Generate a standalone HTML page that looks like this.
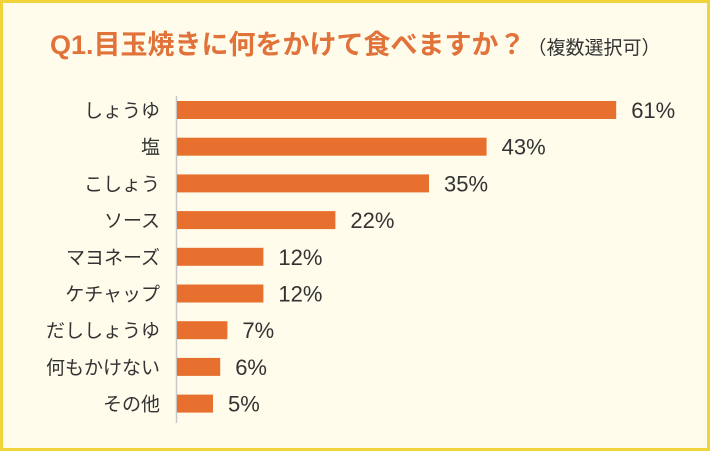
<!DOCTYPE html>
<html><head><meta charset="utf-8"><style>
body{margin:0;width:710px;height:451px;overflow:hidden;background:#fff}
#frame{position:absolute;left:0;top:0;width:704px;height:445px;border:3px solid #f0d43a;background:#fffcec}
text{font-family:"Liberation Sans","Noto Sans CJK JP",sans-serif}
</style></head><body>
<div id="frame"></div>
<svg id="chart" width="710" height="451" style="position:absolute;left:0;top:0">
<text x="50" y="54" font-size="27" font-weight="bold" fill="#e0723a">Q1.目玉焼きに何をかけて食べますか？<tspan font-size="19" font-weight="normal" fill="#333" dx="2">（複数選択可）</tspan></text>
<line x1="176.5" y1="96" x2="176.5" y2="423" stroke="#c8c8c8" stroke-width="1.5"/>
</svg>
<script>
const categories=["しょうゆ","塩","こしょう","ソース","マヨネーズ","ケチャップ","だししょうゆ","何もかけない","その他"];
const values=[61,43,35,22,12,12,7,6,5];
const valueLabels=["61%","43%","35%","22%","12%","12%","7%","6%","5%"];
const svg=document.getElementById('chart');
const NS='http://www.w3.org/2000/svg';
const x0=177, pxPer=7.2;
function xScale(v){return x0+v*pxPer;}
function yScale(i){return 110+i*36.7;}
categories.forEach((c,i)=>{
  const cy=yScale(i);
  const r=document.createElementNS(NS,'rect');
  r.setAttribute('x',x0);r.setAttribute('y',cy-9);
  r.setAttribute('width',xScale(values[i])-x0);r.setAttribute('height',18);
  r.setAttribute('fill','#e8702f');
  
  
  svg.appendChild(r);
  const t=document.createElementNS(NS,'text');
  t.setAttribute('x',160);t.setAttribute('y',cy+7);
  t.setAttribute('text-anchor','end');t.setAttribute('font-size','19');t.setAttribute('fill','#333');
  t.textContent=c;
  
  
  svg.appendChild(t);
  const v=document.createElementNS(NS,'text');
  v.setAttribute('x',xScale(values[i])+15);v.setAttribute('y',cy+8);
  v.setAttribute('font-size','22');v.setAttribute('fill','#333');
  v.textContent=valueLabels[i];
  
  
  svg.appendChild(v);
});
</script>
</body></html>
